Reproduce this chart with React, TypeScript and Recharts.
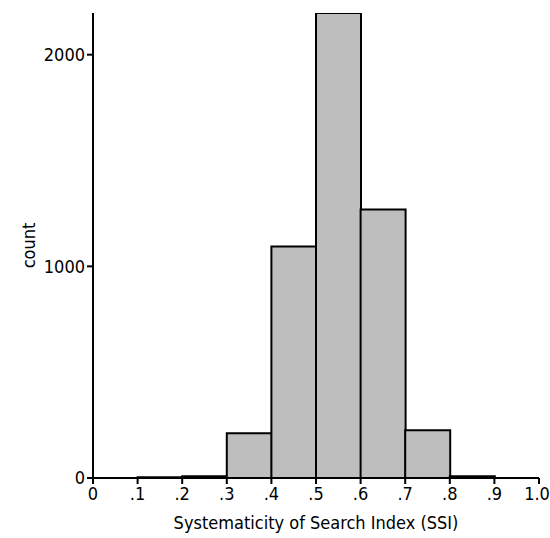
import { BarChart, Bar, XAxis, YAxis } from "recharts";

// histogram: bin lower edges (width .1) and counts
const binStarts = [0, 0.1, 0.2, 0.3, 0.4, 0.5, 0.6, 0.7, 0.8, 0.9];
const counts = [0, 3, 8, 212, 1094, 2197, 1268, 226, 8, 0];
const xTicks = [0, 0.1, 0.2, 0.3, 0.4, 0.5, 0.6, 0.7, 0.8, 0.9, 1.0];
const yTicks = [0, 1000, 2000];

const data = binStarts.map((s, i) => ({ mid: s + 0.05, count: counts[i] }));

const font = "'Liberation Sans Narrow', 'DejaVu Sans', sans-serif";

const fmtX = (v: number) => {
  if (v === 0) return "0";
  if (v === 1) return "1.0";
  return "." + Math.round(v * 10);
};

const txt = { fill: "#000", fontSize: 18, fontFamily: font, fontStretch: "condensed" as const };

const XTick = (p: any) => (
  <text x={p.x - (p.payload.value === 1 ? 2 : 0)} y={p.y} dy="0.8em" textAnchor="middle" style={txt}>
    {fmtX(p.payload.value)}
  </text>
);

const YTick = (p: any) => (
  <text x={p.x} y={p.y} dy="0.36em" textAnchor="end" style={txt}>
    {p.payload.value}
  </text>
);

export default function App() {
  return (
    <div style={{ fontFamily: font }}>
      <style>{`body { margin: 0; }`}</style>
      <BarChart
        width={550}
        height={538}
        data={data}
        margin={{ top: 13, right: 11, bottom: 0, left: 8 }}
        barCategoryGap={0}
        barGap={0}
      >
        <XAxis
          dataKey="mid"
          type="number"
          domain={[0, 1]}
          ticks={xTicks}
          allowDataOverflow
          height={60}
          tickSize={6}
          interval={0}
          stroke="#000"
          strokeWidth={2}
          tick={<XTick />}
          label={{ value: "Systematicity of Search Index (SSI)", position: "insideBottom", offset: 9, style: txt }}
        />
        <YAxis
          domain={[0, 2197]}
          ticks={yTicks}
          width={85}
          tickSize={6}
          stroke="#000"
          strokeWidth={2}
          allowDataOverflow
          tick={<YTick />}
          label={{ value: "count", angle: -90, position: "center", dx: -22, style: txt }}
        />
        <Bar
          dataKey="count"
          fill="#bebebe"
          stroke="#000"
          strokeWidth={2}
          isAnimationActive={false}
        />
      </BarChart>
    </div>
  );
}
